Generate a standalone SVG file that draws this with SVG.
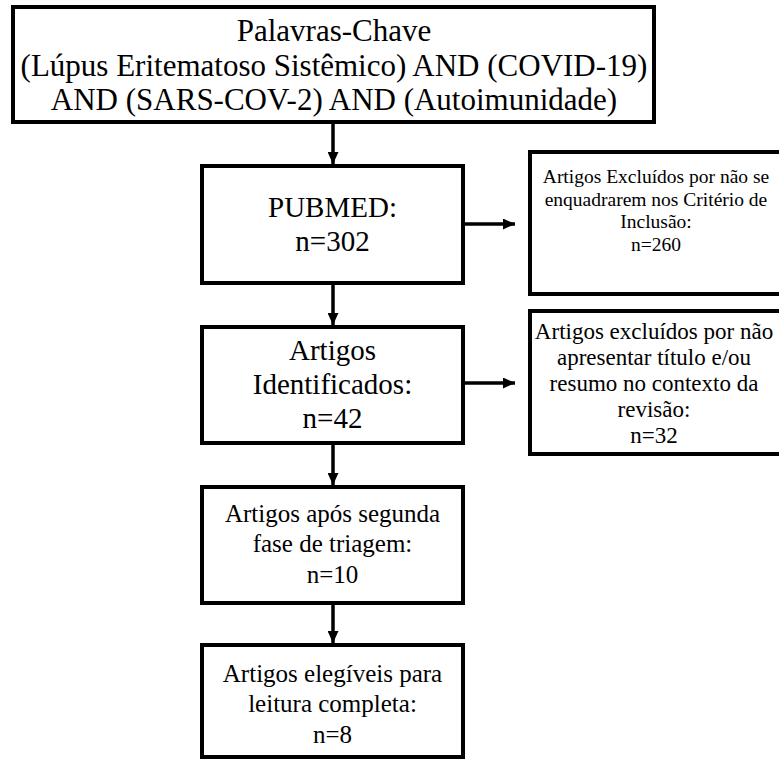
<svg xmlns="http://www.w3.org/2000/svg" width="779" height="762" viewBox="0 0 779 762">
<style>
  .box { fill: #ffffff; stroke: #000000; stroke-width: 4; }
  .t { font-family: "Liberation Serif", "Times New Roman", serif; fill: #000000; text-anchor: middle; }
  .big { font-size: 31px; }
  .mid { font-size: 29px; }
  .sm { font-size: 25px; }
  .xs { font-size: 19.5px; }
  .r2 { font-size: 23px; }
  .conn { stroke: #000000; stroke-width: 3.5; fill: none; }
</style>
<defs>
  <marker id="ah" markerUnits="userSpaceOnUse" markerWidth="12" markerHeight="11" viewBox="0 0 12 11" refX="12" refY="5.5" orient="auto">
    <path d="M0,0 L12,5.5 L0,11 z" fill="#000000"/>
  </marker>
</defs>
<rect width="779" height="762" fill="#ffffff"/>

<g id="connectors">
  <line class="conn" x1="333" y1="122" x2="333" y2="164" marker-end="url(#ah)"/>
  <line class="conn" x1="333" y1="283" x2="333" y2="325" marker-end="url(#ah)"/>
  <line class="conn" x1="333" y1="443" x2="333" y2="485" marker-end="url(#ah)"/>
  <line class="conn" x1="333" y1="603" x2="333" y2="643" marker-end="url(#ah)"/>
  <line class="conn" x1="463" y1="224" x2="515" y2="224" marker-end="url(#ah)"/>
  <line class="conn" x1="463" y1="383" x2="515" y2="383" marker-end="url(#ah)"/>
</g>

<g id="keywords">
  <rect class="box" x="13" y="7" width="641" height="115"/>
  <text class="t big" x="334" y="41">Palavras-Chave</text>
  <text class="t big" x="334" y="76">(Lúpus Eritematoso Sistêmico) AND (COVID-19)</text>
  <text class="t big" x="334" y="110">AND (SARS-COV-2) AND (Autoimunidade)</text>
</g>

<g id="pubmed">
  <rect class="box" x="202" y="166" width="261" height="117"/>
  <text class="t mid" x="332.5" y="217">PUBMED:</text>
  <text class="t mid" x="332.5" y="251">n=302</text>
</g>

<g id="identificados">
  <rect class="box" x="202" y="327" width="261" height="116"/>
  <text class="t mid" x="332.5" y="360">Artigos</text>
  <text class="t mid" x="332.5" y="394">Identificados:</text>
  <text class="t mid" x="332.5" y="428">n=42</text>
</g>

<g id="triagem">
  <rect class="box" x="202" y="487" width="261" height="116"/>
  <text class="t sm" x="332.5" y="522">Artigos após segunda</text>
  <text class="t sm" x="332.5" y="552">fase de triagem:</text>
  <text class="t sm" x="332.5" y="583">n=10</text>
</g>

<g id="elegiveis">
  <rect class="box" x="202" y="645" width="261" height="112"/>
  <text class="t sm" x="332.5" y="682">Artigos elegíveis para</text>
  <text class="t sm" x="332.5" y="712">leitura completa:</text>
  <text class="t sm" x="332.5" y="743">n=8</text>
</g>

<g id="excluidos-criterio">
  <rect class="box" x="530" y="152" width="252" height="142"/>
  <text class="t xs" x="656" y="183">Artigos Excluídos por não se</text>
  <text class="t xs" x="656" y="206">enquadrarem nos Critério de</text>
  <text class="t xs" x="656" y="228">Inclusão:</text>
  <text class="t xs" x="656" y="251">n=260</text>
</g>

<g id="excluidos-titulo">
  <rect class="box" x="530" y="311" width="252" height="143"/>
  <text class="t r2" x="654" y="339">Artigos excluídos por não</text>
  <text class="t r2" x="654" y="365">apresentar título e/ou</text>
  <text class="t r2" x="654" y="391">resumo no contexto da</text>
  <text class="t r2" x="654" y="417">revisão:</text>
  <text class="t r2" x="654" y="443">n=32</text>
</g>
</svg>
